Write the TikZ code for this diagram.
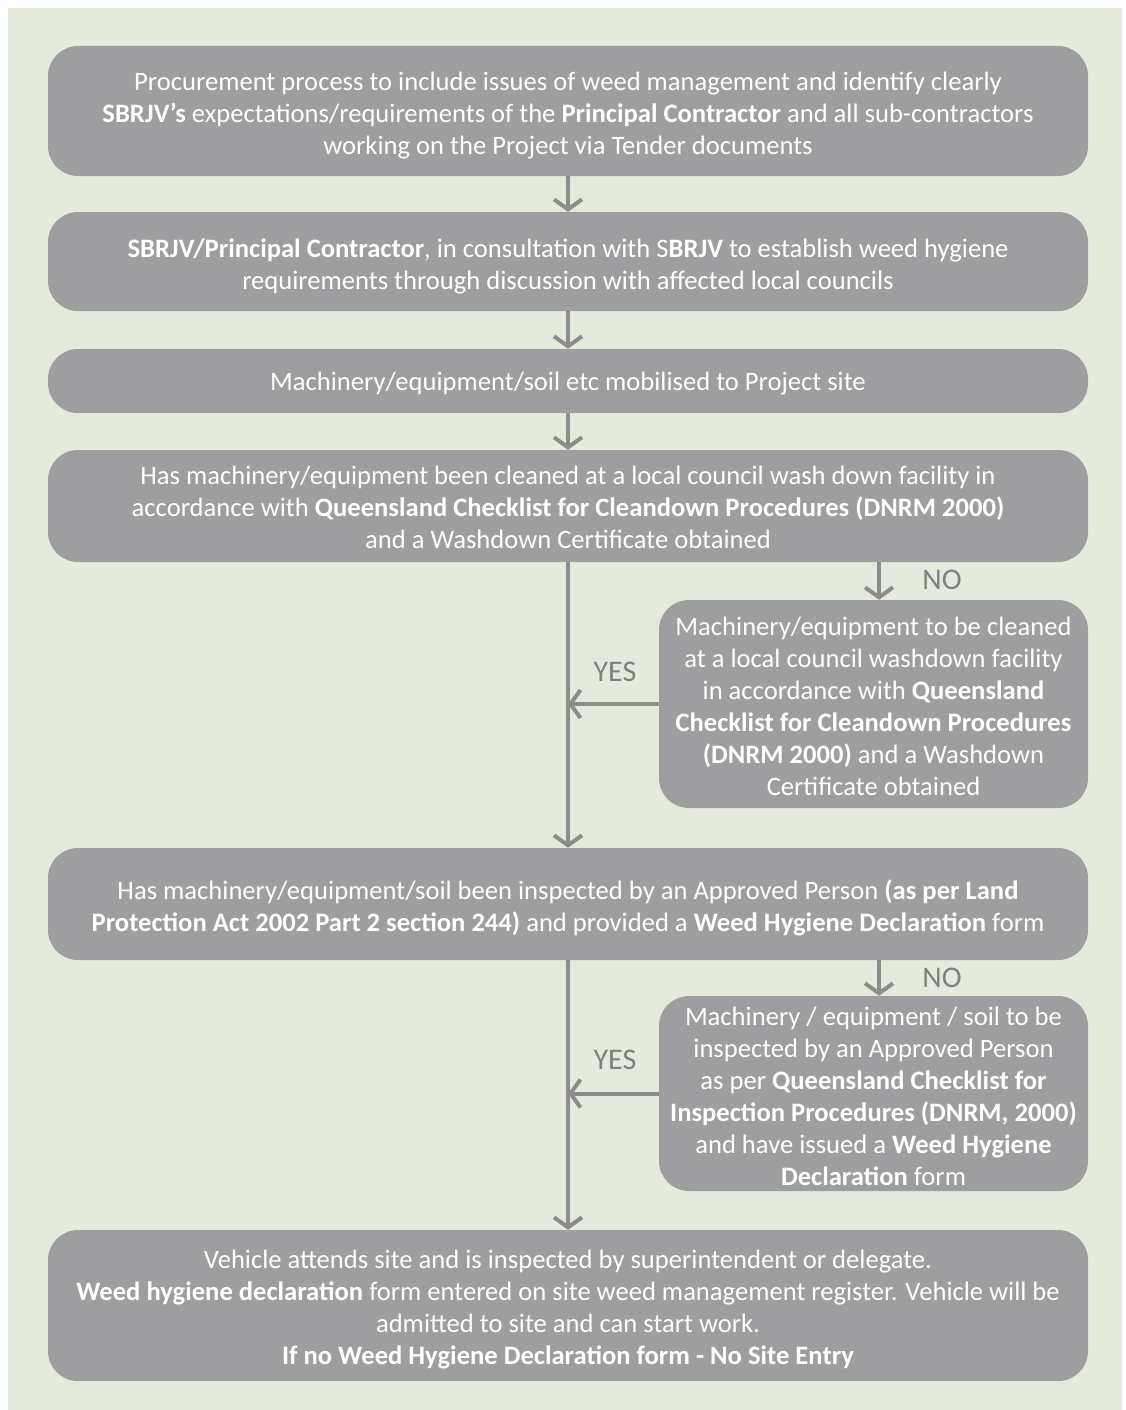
\documentclass[tikz,border=0pt]{standalone}
\usepackage{fontspec}
\setmainfont{Carlito}
\usetikzlibrary{arrows.meta}
\definecolor{boxgray}{RGB}{158,158,160}
\definecolor{arrowgray}{RGB}{140,140,141}
\definecolor{labelgray}{RGB}{128,128,128}
\definecolor{bggreen}{RGB}{229,235,220}
\begin{document}
\begin{tikzpicture}[x=1pt,y=-1pt,
  box/.style={fill=boxgray,text=white,rounded corners=30pt,align=center,inner sep=0pt,
    font=\fontsize{26.6}{32}\selectfont},
  wide/.style={box,minimum width=1040pt},
  side/.style={box,minimum width=429pt},
  flow/.style={draw=arrowgray,line width=4pt,-{Straight Barb[length=10pt,width=28pt]}},
  answer/.style={text=labelgray,inner sep=0pt,font=\fontsize{30}{32}\selectfont}]
\useasboundingbox (0,0) rectangle (1125,1410);
\fill[white] (0,0) rectangle (1125,1410);
\fill[bggreen] (8,8) rectangle (1122,1410);
\node[wide,minimum height=130pt,text height=92pt] (procure) at (568,111) {Procurement process to include issues of weed management and identify clearly\\
  \textbf{SBRJV’s} expectations/requirements of the \textbf{Principal Contractor} and all sub-contractors\\
  working on the Project via Tender documents};
\node[wide,minimum height=99pt,text height=60pt] (consult) at (568,261.5) {\textbf{SBRJV/Principal Contractor}, in consultation with S\textbf{BRJV} to establish weed hygiene\\
  requirements through discussion with affected local councils};
\node[wide,minimum height=64pt,text height=23pt] (mobilise) at (568,381) {Machinery/equipment/soil etc mobilised to Project site};
\node[wide,minimum height=112pt,text height=86pt] (cleaned) at (568,506) {Has machinery/equipment been cleaned at a local council wash down facility in\\
  accordance with \textbf{Queensland Checklist for Cleandown Procedures (DNRM 2000)}\\
  and a Washdown Certificate obtained};
\node[side,minimum height=208pt,text height=184pt] (clean) at (873.5,704) {Machinery/equipment to be cleaned\\
  at a local council washdown facility\\
  in accordance with \textbf{Queensland}\\
  \textbf{Checklist for Cleandown Procedures}\\
  \textbf{(DNRM 2000)} and a Washdown\\
  Certificate obtained};
\node[wide,minimum height=112pt,text height=59pt] (inspected) at (568,904) {Has machinery/equipment/soil been inspected by an Approved Person \textbf{(as per Land}\\
  \textbf{Protection Act 2002 Part 2 section 244)} and provided a \textbf{Weed Hygiene Declaration} form};
\node[side,minimum height=195pt,text height=185pt] (inspect) at (873.5,1093.5) {Machinery / equipment / soil to be\\
  inspected by an Approved Person\\
  as per \textbf{Queensland Checklist for}\\
  \textbf{Inspection Procedures (DNRM, 2000)}\\
  and have issued a \textbf{Weed Hygiene}\\
  \textbf{Declaration} form};
\node[wide,minimum height=151pt,text height=123pt] (admit) at (568,1305.5) {Vehicle attends site and is inspected by superintendent or delegate.\\
  \textbf{Weed hygiene declaration} form entered on site weed management register. Vehicle will be\\
  admitted to site and can start work.\\
  \textbf{If no Weed Hygiene Declaration form - No Site Entry}};
\node[answer] (no1) at (942,580) {NO};
\node[answer] (yes1) at (615,672) {YES};
\node[answer] (no2) at (942,978) {NO};
\node[answer] (yes2) at (615,1060) {YES};
\draw[flow] (procure) -- (consult);
\draw[flow] (consult) -- (mobilise);
\draw[flow] (mobilise) -- (cleaned);
\draw[flow] (cleaned) -- (inspected);
\draw[flow] ([xshift=5.5pt]clean.north |- cleaned.south) -- ([xshift=5.5pt]clean.north);
\draw[flow] (clean.west) -- (clean.west -| cleaned.south);
\draw[flow] (inspected) -- (admit);
\draw[flow] ([xshift=5.5pt]inspect.north |- inspected.south) -- ([xshift=5.5pt]inspect.north);
\draw[flow] (inspect.west) -- (inspect.west -| inspected.south);
\end{tikzpicture}
\end{document}
